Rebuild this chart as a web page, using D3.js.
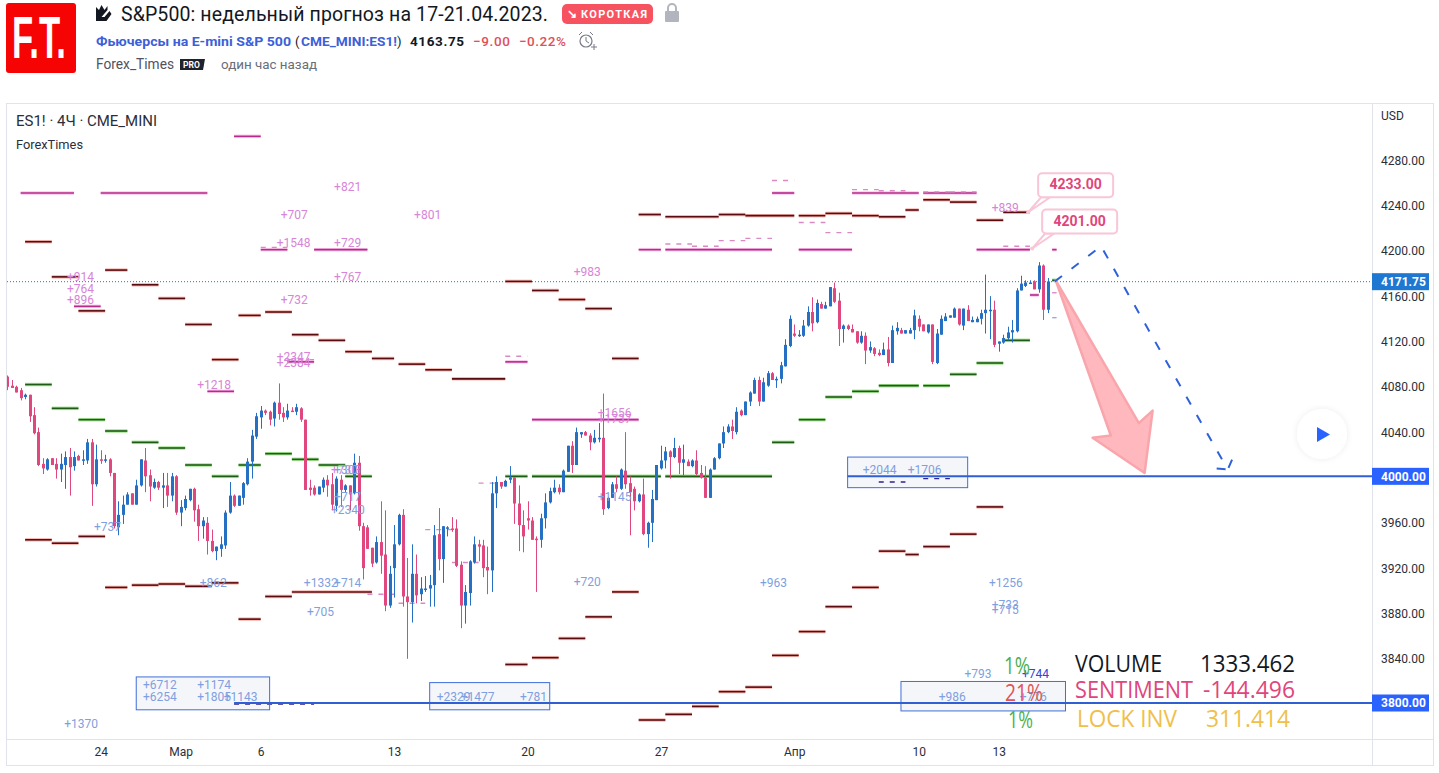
<!DOCTYPE html>
<html>
<head>
<meta charset="utf-8">
<script src="https://d3js.org/d3.v7.min.js"></script>
<style>
  html, body { margin: 0; padding: 0; background: #fff; overflow: hidden; }
  svg { display: block; font-family: Roboto, sans-serif; }
</style>
</head>
<body>
<svg id="chart" width="1439" height="773"></svg>
<script>
// 4H candles, one row per bar: open, high, low, close
const candles = [
  [4088,4089,4076,4079],[4080,4085,4078,4078],[4079,4080,4074,4074],[4076,4078,4067,4069],[4070,4073,4068,4072],[4072,4072,4048,4053],
  [4054,4061,4037,4038],[4039,4043,4009,4010],[4011,4016,4002,4007],[4006,4016,4005,4015],[4016,4016,4010,4010],[4011,4016,3998,4006],
  [4006,4020,3995,4011],[4010,4022,3989,4017],[4017,4025,3983,4008],[4009,4022,4005,4017],[4018,4019,4014,4014],[4014,4023,4010,4015],
  [4014,4033,4011,4030],[4030,4033,3974,3993],[3993,4028,3991,4015],[4015,4023,4011,4014],[4014,4019,4012,4015],[4015,4016,4000,4003],
  [4003,4003,3954,3956],[3955,3978,3948,3966],[3966,3983,3958,3975],[3975,3986,3975,3984],[3985,3985,3975,3975],[3975,3997,3975,3992],
  [3992,4015,3991,4015],[4014,4025,3986,4000],[4001,4006,3978,3991],[3990,3998,3989,3995],[3995,3996,3988,3990],[3990,4003,3972,3992],
  [3992,4003,3973,3983],[3983,4003,3978,4000],[4000,4001,3966,3968],[3968,3979,3956,3973],[3972,3983,3970,3980],[3979,3989,3978,3989],
  [3989,3990,3960,3970],[3971,3975,3943,3956],[3956,3964,3945,3961],[3959,3964,3931,3943],[3943,3953,3933,3934],[3934,3938,3926,3938],
  [3936,3947,3929,3940],[3939,3970,3936,3968],[3968,3995,3967,3983],[3983,3984,3973,3974],[3974,3983,3974,3983],[3981,3995,3975,3994],
  [3993,4016,3992,4013],[4013,4041,3998,4036],[4035,4056,4033,4053],[4052,4062,4042,4058],[4058,4059,4054,4056],[4057,4058,4045,4050],
  [4051,4066,4044,4065],[4065,4082,4050,4055],[4056,4061,4048,4052],[4052,4064,4050,4058],[4058,4061,4057,4057],[4057,4064,4054,4061],
  [4060,4061,4048,4050],[4050,4050,3988,3988],[3990,3997,3983,3988],[3990,3992,3983,3984],[3984,3991,3984,3991],[3990,3999,3986,3997],
  [3997,4001,3982,3992],[3993,4003,3970,3975],[3974,4000,3969,3998],[3997,4001,3973,3988],[3988,3993,3986,3992],[3992,3992,3970,3984],
  [3985,4020,3984,4012],[4012,4018,3952,3956],[3956,3959,3909,3919],[3955,3957,3936,3936],[3937,3937,3920,3923],[3924,3947,3923,3942],
  [3942,3978,3914,3930],[3931,3970,3881,3886],[3886,3921,3884,3914],[3919,3957,3893,3940],[3940,3967,3939,3966],[3966,3971,3885,3894],
  [3894,3928,3839,3889],[3889,3940,3871,3914],[3914,3931,3888,3895],[3896,3911,3890,3901],[3900,3912,3898,3901],[3901,3913,3885,3904],
  [3904,3957,3885,3948],[3949,3972,3917,3927],[3927,3956,3906,3956],[3954,3956,3947,3955],[3954,3964,3951,3953],[3954,3962,3920,3921],
  [3922,3925,3866,3886],[3886,3904,3870,3898],[3897,3926,3886,3925],[3924,3947,3923,3940],[3940,3944,3925,3938],[3939,3944,3911,3919],
  [3920,3938,3896,3917],[3917,3995,3898,3985],[3985,4000,3972,3995],[3995,3995,3989,3991],[3991,3997,3991,3996],[3997,4009,3994,3999],
  [3999,3999,3958,3976],[3976,3992,3934,3957],[3957,3970,3933,3947],[3963,3978,3953,3961],[3961,3964,3944,3944],[3945,3947,3898,3944],
  [3944,3967,3937,3963],[3963,3985,3954,3977],[3977,3990,3976,3987],[3986,3997,3985,3990],[3990,3993,3984,3986],[3986,4006,3986,4005],
  [4004,4027,4004,4027],[4027,4031,4003,4010],[4010,4043,4010,4039],[4037,4039,4034,4039],[4039,4040,4036,4036],[4036,4038,4023,4030],
  [4030,4041,4029,4034],[4033,4047,4030,4034],[4034,4073,3966,3971],[3972,3982,3971,3981],[3981,3995,3981,3993],[3993,4000,3986,3989],
  [3989,4007,3988,4006],[4005,4039,3989,3993],[3994,4000,3948,3986],[3989,3991,3970,3978],[3978,3985,3977,3984],[3984,3998,3948,3949],
  [3949,3960,3937,3959],[3959,3988,3942,3980],[3979,4010,3979,4010],[4007,4027,4006,4014],[4014,4026,4007,4022],[4022,4023,3998,4017],
  [4017,4034,4016,4025],[4025,4027,4002,4012],[4012,4028,4001,4015],[4013,4015,4009,4009],[4009,4015,4008,4014],[4014,4023,4001,4002],
  [4003,4010,3998,3999],[3999,4009,3981,3981],[3981,4007,3981,4006],[4006,4017,4006,4016],[4016,4029,4015,4029],[4029,4044,4025,4039],
  [4039,4046,4038,4044],[4044,4050,4033,4040],[4039,4061,4037,4057],[4058,4059,4053,4054],[4054,4066,4054,4066],[4066,4075,4062,4074],
  [4073,4087,4073,4085],[4085,4088,4062,4066],[4066,4087,4066,4083],[4080,4093,4079,4091],[4091,4092,4085,4085],[4085,4088,4078,4086],
  [4086,4101,4082,4098],[4097,4121,4097,4116],[4115,4142,4114,4139],[4126,4134,4123,4124],[4124,4129,4123,4125],[4124,4138,4123,4133],
  [4133,4150,4132,4145],[4145,4158,4128,4135],[4136,4156,4135,4153],[4152,4154,4148,4148],[4148,4154,4148,4151],[4150,4167,4150,4167],
  [4166,4171,4153,4154],[4155,4162,4115,4130],[4130,4134,4118,4133],[4133,4134,4129,4130],[4130,4134,4127,4127],[4128,4128,4117,4118],
  [4118,4128,4117,4124],[4124,4127,4099,4111],[4111,4119,4109,4114],[4113,4114,4106,4108],[4109,4112,4106,4107],[4107,4118,4107,4112],
  [4112,4123,4097,4100],[4100,4133,4100,4129],[4128,4136,4125,4131],[4129,4131,4126,4126],[4126,4129,4126,4129],[4126,4131,4126,4129],
  [4129,4147,4121,4142],[4139,4142,4128,4132],[4134,4134,4128,4128],[4127,4134,4126,4134],[4134,4134,4099,4101],[4100,4130,4099,4126],
  [4125,4142,4125,4139],[4137,4144,4137,4141],[4140,4142,4140,4142],[4140,4149,4140,4148],[4148,4148,4133,4134],[4133,4148,4129,4148],
  [4147,4151,4137,4137],[4136,4141,4136,4138],[4136,4141,4136,4139],[4139,4147,4134,4144],[4144,4178,4126,4147],[4146,4159,4121,4147],
  [4147,4155,4114,4116],[4117,4119,4110,4119],[4118,4125,4117,4122],[4122,4132,4120,4127],[4127,4138,4118,4129],[4128,4166,4127,4164],
  [4164,4177,4164,4170],[4168,4173,4167,4171],[4170,4173,4170,4171],[4172,4173,4165,4165],[4165,4189,4162,4186],[4186,4187,4138,4147],
  [4147,4175,4144,4172]
];

// Indicator levels: first bar, last bar, price
const maroonLevels = [
  [4,10,4207],[10,16,4176],[16,22,4146],[22,27,4182],[28,34,4169],[34,40,4157],[40,46,4134],[46,52,4103],[52,57,4142],[58,64,4145],
  [64,70,4125],[70,76,4120],[76,82,4110],[82,87,4104],[88,94,4099],[94,100,4094],[100,112,4086],[112,118,4172],[118,124,4164],[124,130,4156],
  [130,136,4148],[136,142,4104],[142,147,4231],[148,160,4229],[160,166,4231],[166,177,4230],[178,184,4230],[184,190,4232],[190,196,4230],
  [196,202,4229],[202,205,4235],[206,212,4244],[212,218,4242],[218,224,4226],[224,230,4233],
  [4,10,3944],[10,16,3941],[16,22,3947],[22,27,3902],[28,34,3904],[34,40,3905],[40,46,3903],[46,52,3906],[52,57,3874],[58,64,3894],[64,82,3898],
  [112,117,3834],[118,124,3840],[124,130,3857],[130,136,3876],[136,142,3898],[142,148,3785],[148,154,3790],[154,160,3797],[160,166,3810],
  [166,172,3814],[172,178,3842],[178,184,3863],[184,190,3885],[190,196,3902],[196,202,3934],[202,205,3931],[206,212,3938],[212,218,3949],[218,224,3973]
];
const greenLevels = [
  [4,10,4081],[10,16,4060],[16,22,4050],[22,27,4040],[28,34,4030],[34,40,4025],[40,46,4010],[46,52,4000],[52,57,4010],[58,64,4020],
  [64,70,4015],[70,76,4010],[76,82,4000],[112,117,4000],[118,147,4000],[148,172,4000],[172,177,4030],[178,184,4050],[184,190,4070],
  [190,196,4075],[196,205,4080],[206,212,4080],[212,218,4090],[218,224,4100],[224,230,4120],[235,236,4173]
];
const magentaLevels = [
  [3,15,4250],[21,45,4250],[15,21,4150],[45,51,4075],[51,57,4300],[57,63,4200],[63,69,4101],[69,81,4200],[112,117,4101],[118,142,4050],
  [142,147,4200],[148,172,4200],[172,177,4250],[178,190,4200],[190,205,4250],[206,218,4250],[218,230,4200],[230,232,4160],[235,236,4200]
];
const pinkDashLevels = [
  [57,63,4202],[63,69,4103],[81,87,3896],[88,94,3888],[94,100,3953],[100,106,3924],[106,110,3994],[112,117,4106],
  [148,154,4205],[154,160,4203],[160,166,4208],[166,172,4210],[172,177,4261],[178,184,4224],[184,190,4215],
  [190,196,4253],[196,202,4252],[206,212,4251],[212,218,4251],[224,230,4203],[235,236,4162]
];
const darkDashLevels = [[51,69,3799],[196,202,3995],[206,212,3998]];
const paleDashLevels = [[235,236,4140]];

// Horizontal drawings and their boxes
const blueLines = [[189,4000],[51,3800]];
const blueBoxes = [[29,59,3823,3794],[95,122,3818,3794],[201,238,3819,3793],[189,216,4017,3990]];

// Axis values
const priceTicks = [4280,4240,4200,4160,4120,4080,4040,3960,3920,3880,3840];
const priceBoxes = [4000,3800];
const lastPrice = 4171.75;
const timeTickBars = [21,39,57,87,117,147,177,205,223];
const timeTickLabels = ['24','Мар','6','13','20','27','Апр','10','13'];

// Volume labels: text, bar, price
const pinkLabels = [
  ['+821',73.5,4256],['+707',61.5,4231],['+801',91.5,4231],['+1548',60.6,4206],['+729',73.5,4206],['+914',13.4,4176],['+764',13.4,4166],
  ['+896',13.4,4156],['+767',73.5,4176],['+732',61.5,4156],['+2347',60.6,4106],['+2384',60.6,4100],['+1218',42.7,4081],['+983',127.4,4181],
  ['+1656',132.8,4056],['+1737',132.8,4051],['+839',221.4,4237],['+730',72.8,4006]
];
const blueLabels = [
  ['+303',73.5,4006],['+737',19.5,3956],['+862',43.3,3906],['+1332',66.7,3906],['+714',73.5,3906],['+705',67.4,3881],['+717',73.5,3982],
  ['+2340',72.8,3971],['+1145',132.8,3982],['+720',127.4,3907],['+963',169.3,3906],['+1256',220.8,3906],['+733',221.4,3887],['+715',221.4,3882],
  ['+6712',30.5,3816],['+6254',30.5,3806],['+1174',42.7,3816],['+1805',42.7,3806],['+1143',48.7,3806],['+1370',12.8,3782],['+2329',96.6,3806],
  ['+1477',102,3806],['+781',115.3,3806],['+2044',192.4,4006],['+1706',202.5,4006],['+793',215.3,3826],['+986',209.5,3806],['+776',227.7,3806]
];

// Drawn forecast: bar, price
const forecastPath = [[235.6,4172],[246,4203],[274.5,4006]];
const forecastBarbs = [[272,4007],[274.5,4006],[275.6,4016]];
const shortArrow = [[235.8,4173],[254.5,4047],[257.6,4058],[255.8,4003],[244.1,4034],[248.2,4036]];
const callouts = [['4233.00',229.6,4233],['4201.00',230.5,4201]];

// Scales
const x = d3.scaleLinear().domain([0, 234]).range([7.3, 1047.7]);
const y = d3.scaleLinear().domain([3800, 4280]).range([703, 159]);

const svg = d3.select('#chart');

function addText(parent, px, py, str, opts = {}) {
    return parent.append('text')
        .attr('x', px)
        .attr('y', py)
        .attr('dy', '0.1em')
        .attr('fill', opts.fill || '#131722')
        .attr('font-size', opts.size || 12)
        .attr('font-weight', opts.weight || 400)
        .attr('font-family', opts.family || null)
        .attr('text-anchor', opts.anchor || 'start')
        .attr('dominant-baseline', 'middle')
        .text(str);
}

// Idea header above the chart
function drawHeader() {
    const head = svg.append('g');
    head.append('rect').attr('x', 6).attr('y', 3).attr('width', 70).attr('height', 70).attr('rx', 3).attr('fill', '#f60404');
    addText(head, 12, 36, 'F.T.', { fill: '#fff', size: 60, weight: 700, family: 'Liberation Sans' })
        .attr('textLength', 54).attr('lengthAdjust', 'spacingAndGlyphs');

    // small crown-and-pencil icon in front of the title
    head.append('path').attr('d', 'M96 21V7l3 3 2.5-5 3 5 3-4v4l-6 7h3l5-6 2 3-5 7z').attr('fill', '#131722');
    addText(head, 121, 14, 'S&P500: недельный прогноз на 17-21.04.2023.', { size: 19.5 }).attr('textLength', 427);

    head.append('rect').attr('x', 562).attr('y', 4).attr('width', 91).attr('height', 20).attr('rx', 5).attr('fill', '#f7525f');
    addText(head, 567, 14, '↘', { fill: '#fff', size: 12, weight: 700 });
    addText(head, 581, 14, 'КОРОТКАЯ', { fill: '#fff', size: 11, weight: 700 }).attr('textLength', 66);
    head.append('rect').attr('x', 665).attr('y', 11).attr('width', 14).attr('height', 11).attr('rx', 1).attr('fill', '#b2b5be');
    head.append('path').attr('d', 'M668 11V8a4 4 0 0 1 8 0v3').attr('fill', 'none').attr('stroke', '#b2b5be').attr('stroke-width', 2);

    addText(head, 96, 41.5, 'Фьючерсы на E-mini S&P 500', { fill: '#3d5fd8', size: 13.5, weight: 700 }).attr('textLength', 195).attr('lengthAdjust', 'spacingAndGlyphs');
    addText(head, 295, 41.5, '(', { size: 13 });
    addText(head, 301, 41.5, 'CME_MINI:ES1!', { fill: '#3d5fd8', size: 13.5, weight: 700 }).attr('textLength', 96).attr('lengthAdjust', 'spacingAndGlyphs');
    addText(head, 397, 41.5, ')', { size: 13 });
    addText(head, 410, 41, '4163.75', { size: 13.5, weight: 700 }).attr('textLength', 54);
    addText(head, 473, 41, '−9.00', { fill: '#e0505a', size: 13.5, weight: 500 }).attr('textLength', 37);
    addText(head, 519, 41, '−0.22%', { fill: '#e0505a', size: 13.5, weight: 500 }).attr('textLength', 47);
    head.append('circle').attr('cx', 586).attr('cy', 41).attr('r', 6).attr('fill', 'none').attr('stroke', '#787b86').attr('stroke-width', 1.2);
    head.append('path').attr('d', 'M586 37v4l3 2M579 35l3-3M593 35l-3-3M591 47h6M594 44v6').attr('fill', 'none').attr('stroke', '#787b86');

    addText(head, 96, 64, 'Forex_Times', { fill: '#50535e', size: 14 }).attr('textLength', 78).attr('lengthAdjust', 'spacingAndGlyphs');
    head.append('path').attr('d', 'M180 59h25l-2 11h-23z').attr('fill', '#1e222d');
    addText(head, 183, 64.5, 'PRO', { fill: '#fff', size: 8.5, weight: 700 });
    addText(head, 221, 64, 'один час назад', { fill: '#6a6d78', size: 13.5 }).attr('textLength', 96).attr('lengthAdjust', 'spacingAndGlyphs');
}

// Chart frame, both axes and the legend text
function drawFrame() {
    const frame = svg.append('g').attr('fill', 'none').attr('stroke', '#e0e3eb');
    frame.append('rect').attr('x', 6.5).attr('y', 103.5).attr('width', 1427).attr('height', 662);
    frame.append('line').attr('x1', 1372.5).attr('x2', 1372.5).attr('y1', 104).attr('y2', 766);
    frame.append('line').attr('x1', 7).attr('x2', 1433).attr('y1', 739.5).attr('y2', 739.5);

    addText(svg, 16, 120.5, 'ES1! · 4Ч · CME_MINI', { size: 15, fill: '#2a2e39' }).attr('textLength', 141).attr('lengthAdjust', 'spacingAndGlyphs');
    addText(svg, 16, 144.5, 'ForexTimes', { size: 13, fill: '#2a2e39' }).attr('textLength', 67).attr('lengthAdjust', 'spacingAndGlyphs');
    addText(svg, 1381, 116, 'USD', { size: 12, fill: '#2a2e39' });

    const priceAxis = d3.axisRight(y).tickValues(priceTicks).tickSize(0).tickPadding(9).tickFormat(d => d.toFixed(2));
    const priceG = svg.append('g').attr('transform', 'translate(1372,0)').call(priceAxis);
    priceG.select('.domain').remove();
    priceG.selectAll('text').attr('font-size', 12).attr('font-family', 'Roboto').attr('fill', '#2a2e39').attr('dy', '0.42em');

    const timeAxis = d3.axisBottom(x).tickValues(timeTickBars).tickSize(0).tickPadding(8).tickFormat((d, i) => timeTickLabels[i]);
    const timeG = svg.append('g').attr('transform', 'translate(0,739)').call(timeAxis);
    timeG.select('.domain').remove();
    timeG.selectAll('text').attr('font-size', 12).attr('font-family', 'Roboto').attr('fill', '#2a2e39');
}

function drawLevels(parent, rows, core, halo) {
    const g = parent.append('g');
    g.selectAll('line.halo').data(rows).join('line').attr('class', 'halo')
        .attr('x1', d => x(d[0])).attr('x2', d => x(d[1]))
        .attr('y1', d => y(d[2])).attr('y2', d => y(d[2]))
        .attr('stroke', halo).attr('stroke-width', 3.5);
    g.selectAll('line.core').data(rows).join('line').attr('class', 'core')
        .attr('x1', d => x(d[0])).attr('x2', d => x(d[1]))
        .attr('y1', d => y(d[2])).attr('y2', d => y(d[2]))
        .attr('stroke', core).attr('stroke-width', 1.6);
}

function drawDashes(parent, rows, color) {
    parent.append('g').selectAll('line').data(rows).join('line')
        .attr('x1', d => x(d[0])).attr('x2', d => x(d[1]))
        .attr('y1', d => y(d[2])).attr('y2', d => y(d[2]))
        .attr('stroke', color).attr('stroke-width', 1.4).attr('stroke-dasharray', '5,6');
}

function drawCandles(parent) {
    const g = parent.append('g');
    const color = d => d[3] >= d[0] ? '#2670c4' : '#e0477f';
    const px = (d, i) => Math.round(x(i));
    g.selectAll('line').data(candles).join('line')
        .attr('x1', (d, i) => px(d, i) + 0.5).attr('x2', (d, i) => px(d, i) + 0.5)
        .attr('y1', d => y(d[1])).attr('y2', d => y(d[2]))
        .attr('stroke', color);
    g.selectAll('rect').data(candles).join('rect')
        .attr('x', (d, i) => px(d, i) - 1).attr('width', 3)
        .attr('y', d => y(Math.max(d[0], d[3])))
        .attr('height', d => Math.max(1.5, Math.abs(y(d[0]) - y(d[3]))))
        .attr('fill', color);
}

function drawLabels(parent, rows, color) {
    parent.append('g').selectAll('text').data(rows).join('text')
        .attr('x', d => x(d[1])).attr('y', d => y(d[2]))
        .attr('dy', '0.1em')
        .attr('dominant-baseline', 'middle')
        .attr('font-size', 12).attr('fill', color)
        .text(d => d[0]);
}

// Boxes, blue price lines and the hand-drawn forecast
function drawDrawings(parent) {
    parent.append('g').selectAll('rect').data(blueBoxes).join('rect')
        .attr('x', d => x(d[0])).attr('width', d => x(d[1]) - x(d[0]))
        .attr('y', d => y(d[2])).attr('height', d => y(d[3]) - y(d[2]))
        .attr('fill', 'rgba(120,123,190,0.07)').attr('stroke', '#3f6fd8');

    parent.append('g').selectAll('line').data(blueLines).join('line')
        .attr('x1', d => x(d[0])).attr('x2', 1372)
        .attr('y1', d => y(d[1])).attr('y2', d => y(d[1]))
        .attr('stroke', '#2f5fd3').attr('stroke-width', 2);

    const line = d3.line().x(d => x(d[0])).y(d => y(d[1]));
    parent.append('path').attr('d', line(shortArrow) + 'Z')
        .attr('fill', '#ffb9be').attr('stroke', '#f9a5ac').attr('stroke-width', 2.5).attr('stroke-linejoin', 'round');
    parent.append('path').attr('d', line(forecastPath))
        .attr('fill', 'none').attr('stroke', '#2f62d8').attr('stroke-width', 2).attr('stroke-dasharray', '9,12');
    parent.append('path').attr('d', line(forecastBarbs))
        .attr('fill', 'none').attr('stroke', '#2f62d8').attr('stroke-width', 2).attr('stroke-dasharray', '9,4');
}

function drawCallouts(parent) {
    const g = parent.selectAll('g.callout').data(callouts).join('g').attr('class', 'callout')
        .attr('transform', d => `translate(${x(d[1])},${y(d[2])})`);
    g.append('circle').attr('r', 2).attr('fill', '#f8c6d6');
    g.append('path').attr('d', 'M0 0L13 -15H22Z').attr('fill', '#fff').attr('stroke', '#f8c6d6').attr('stroke-width', 2);
    g.append('rect').attr('x', 10).attr('y', -39).attr('width', 75).attr('height', 24).attr('rx', 4)
        .attr('fill', '#fff').attr('stroke', '#f8c6d6').attr('stroke-width', 2);
    g.append('text').attr('x', 47.5).attr('y', -26.5)
        .attr('text-anchor', 'middle').attr('dominant-baseline', 'middle')
        .attr('font-size', 14).attr('font-weight', 700).attr('fill', '#e0457b')
        .text(d => d[0]);
}

// Boxed values on the price scale
function drawPriceBoxes() {
    const rows = priceBoxes.map(p => [p, '#2962ff']).concat([[lastPrice, '#1e78d2']]);
    const g = svg.selectAll('g.pbox').data(rows).join('g').attr('class', 'pbox')
        .attr('transform', d => `translate(1372,${y(d[0])})`);
    g.append('rect').attr('y', -8.5).attr('width', 57).attr('height', 17).attr('fill', d => d[1]);
    g.append('text').attr('x', 9).attr('dy', '0.1em').attr('dominant-baseline', 'middle')
        .attr('font-size', 12).attr('font-weight', 700).attr('fill', '#fff')
        .text(d => d[0].toFixed(2));
}

function drawStats() {
    const g = svg.append('g');
    const big = { size: 23.5, family: 'Open Sans' };
    const stat = (px, py, str, fill, width) => addText(g, px, py, str, { ...big, fill })
        .attr('textLength', width).attr('lengthAdjust', 'spacingAndGlyphs');
    stat(1004, 665, '1%', '#4caf50', 26);
    stat(1005, 692, '21%', '#e05555', 38);
    stat(1008, 719, '1%', '#4caf50', 25);
    stat(1075, 663, 'VOLUME', '#131722', 87);
    stat(1200, 663, '1333.462', '#131722', 95);
    stat(1075, 689, 'SENTIMENT', '#e0457b', 118);
    stat(1203, 689, '-144.496', '#e0457b', 92);
    stat(1077, 718, 'LOCK INV', '#efc04a', 100);
    stat(1206, 718, '311.414', '#efc04a', 84);
}

function drawPlayButton() {
    const g = svg.append('g');
    svg.append('defs').append('filter').attr('id', 'soft')
        .append('feDropShadow').attr('dx', 0).attr('dy', 0).attr('stdDeviation', 3).attr('flood-color', '#000').attr('flood-opacity', 0.08);
    g.append('circle').attr('cx', 1322).attr('cy', 434).attr('r', 25).attr('fill', '#fff').attr('filter', 'url(#soft)');
    g.append('path').attr('d', 'M1317 427L1330 434.5L1317 442Z').attr('fill', '#2962ff');
}

function drawChart() {
    svg.append('clipPath').attr('id', 'pane').append('rect')
        .attr('x', 7).attr('y', 104).attr('width', 1365).attr('height', 635);
    const pane = svg.append('g').attr('clip-path', 'url(#pane)');

    // dotted line at the last price
    pane.append('line').attr('x1', 7).attr('x2', 1372).attr('y1', y(lastPrice)).attr('y2', y(lastPrice))
        .attr('stroke', '#2a7a9a').attr('stroke-dasharray', '1,2');

    drawLevels(pane, maroonLevels, '#5a0b10', '#f6b9b2');
    drawLevels(pane, greenLevels, '#1c5c14', '#a5e394');
    drawLevels(pane, magentaLevels, '#b62b8c', '#fbc8ec');
    drawDashes(pane, pinkDashLevels, '#d98ac4');
    drawDashes(pane, darkDashLevels, '#2a1f8a');
    drawDashes(pane, paleDashLevels, '#9aa8e0');
    drawCandles(pane);
    drawDrawings(pane);
    drawLabels(pane, pinkLabels, '#d884d8');
    drawLabels(pane, blueLabels, '#7f9fe0');
    pane.append('text').attr('x', x(228.2)).attr('y', y(3826)).attr('dy', '0.1em').attr('dominant-baseline', 'middle')
        .attr('font-size', 12).attr('fill', '#2f45d8').text('+744');
    drawCallouts(pane);
}

drawHeader();
drawFrame();
drawChart();
drawPriceBoxes();
drawStats();
drawPlayButton();
</script>
</body>
</html>
